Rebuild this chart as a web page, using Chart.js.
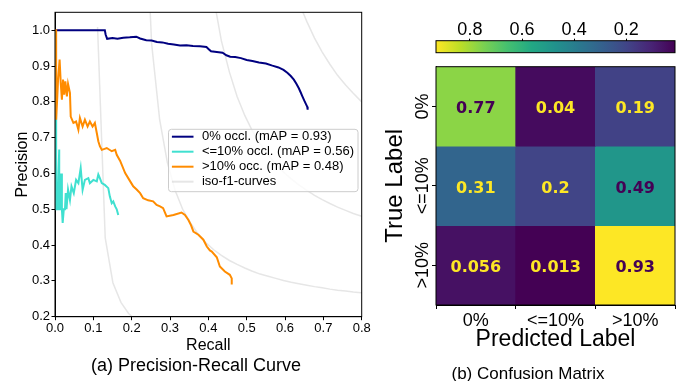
<!DOCTYPE html>
<html>
<head>
<meta charset="utf-8">
<title>Precision-Recall Curve and Confusion Matrix</title>
<script src="https://cdn.jsdelivr.net/npm/chart.js@4.4.1/dist/chart.umd.min.js"></script>
<style>
  html, body { margin: 0; padding: 0; background: #fff; }
  #page { position: relative; width: 680px; height: 381px; overflow: hidden; font-family: "Liberation Sans", Arial, sans-serif; color: #000; }
  canvas { position: absolute; }
  #prChart { left: 0; top: 0; }
  #cbarChart { left: 370px; top: 0; }
  #cmChart { left: 370px; top: 60px; }
  .caption { position: absolute; text-align: center; line-height: 1; white-space: nowrap; }
  #capA { left: 0; width: 392px; top: 355.5px; font-size: 18px; }
  #capB { left: 428px; width: 200px; top: 364.6px; font-size: 17px; }
</style>
</head>
<body>
<div id="page">
  <canvas id="prChart" width="372" height="381"></canvas>
  <canvas id="cbarChart" width="310" height="60"></canvas>
  <canvas id="cmChart" width="310" height="321"></canvas>
  <div class="caption" id="capA">(a) Precision-Recall Curve</div>
  <div class="caption" id="capB">(b) Confusion Matrix</div>
</div>
<script>
// PR curves, as [recall, precision]
const occl0 = [
  [0.000, 1.000], [0.130, 1.000], [0.132, 0.988], [0.136, 0.976], [0.150, 0.978], [0.163, 0.976],
  [0.178, 0.979], [0.195, 0.980], [0.212, 0.982], [0.222, 0.977], [0.238, 0.972], [0.252, 0.971],
  [0.266, 0.967], [0.280, 0.966], [0.295, 0.962], [0.310, 0.960], [0.326, 0.957], [0.343, 0.958],
  [0.360, 0.956], [0.378, 0.955], [0.395, 0.953], [0.401, 0.947], [0.407, 0.941], [0.422, 0.939],
  [0.437, 0.937], [0.447, 0.930], [0.457, 0.926], [0.470, 0.925], [0.485, 0.922], [0.500, 0.917],
  [0.515, 0.914], [0.532, 0.910], [0.550, 0.907], [0.567, 0.901], [0.583, 0.896], [0.596, 0.889],
  [0.606, 0.881], [0.615, 0.872], [0.623, 0.862], [0.630, 0.850], [0.636, 0.838], [0.641, 0.826],
  [0.645, 0.816], [0.650, 0.804], [0.654, 0.795], [0.658, 0.786], [0.659, 0.778]
];
const occl10 = [
  [0.000, 1.000], [0.003, 0.750], [0.003, 0.500], [0.006, 0.500], [0.011, 0.667], [0.011, 0.500],
  [0.014, 0.500], [0.016, 0.600], [0.018, 0.500], [0.020, 0.462], [0.023, 0.500], [0.026, 0.500],
  [0.028, 0.545], [0.030, 0.500], [0.034, 0.555], [0.039, 0.526], [0.043, 0.564], [0.049, 0.545],
  [0.055, 0.582], [0.061, 0.573], [0.067, 0.615], [0.072, 0.554], [0.078, 0.582], [0.087, 0.587],
  [0.091, 0.573], [0.100, 0.582], [0.109, 0.578], [0.113, 0.597], [0.117, 0.587], [0.122, 0.573],
  [0.130, 0.568], [0.139, 0.559], [0.143, 0.536], [0.148, 0.517], [0.152, 0.522], [0.157, 0.508],
  [0.161, 0.500], [0.165, 0.484]
];
const occlOver10 = [
  [0.000, 1.000], [0.003, 1.000], [0.003, 0.750], [0.006, 0.815], [0.008, 0.862], [0.012, 0.918],
  [0.015, 0.853], [0.018, 0.806], [0.021, 0.862], [0.024, 0.820], [0.027, 0.857], [0.031, 0.815],
  [0.034, 0.850], [0.039, 0.825], [0.041, 0.759], [0.048, 0.741], [0.055, 0.745], [0.061, 0.722],
  [0.065, 0.755], [0.072, 0.731], [0.078, 0.750], [0.085, 0.731], [0.091, 0.745], [0.098, 0.731],
  [0.104, 0.741], [0.109, 0.713], [0.113, 0.690], [0.117, 0.676], [0.122, 0.666], [0.135, 0.671],
  [0.148, 0.662], [0.157, 0.666], [0.161, 0.652], [0.170, 0.635], [0.183, 0.601], [0.195, 0.580],
  [0.204, 0.564], [0.213, 0.555], [0.222, 0.545], [0.230, 0.531], [0.243, 0.525], [0.256, 0.522],
  [0.265, 0.512], [0.274, 0.508], [0.282, 0.503], [0.291, 0.480], [0.309, 0.484], [0.330, 0.491],
  [0.339, 0.484], [0.348, 0.470], [0.355, 0.455], [0.361, 0.438], [0.374, 0.429], [0.387, 0.415],
  [0.396, 0.396], [0.404, 0.385], [0.409, 0.382], [0.422, 0.366], [0.430, 0.340], [0.443, 0.326],
  [0.456, 0.317], [0.461, 0.307], [0.461, 0.290]
];

// grey iso-F1 curves (F = 0.2, 0.4, 0.6, 0.8)
const iso02 = [[0.111, 1.009], [0.131, 0.420], [0.151, 0.295], [0.172, 0.240], [0.192, 0.209], [0.212, 0.189]];
const iso04 = [
  [0.232, 1.442], [0.252, 0.963], [0.273, 0.750], [0.293, 0.631], [0.313, 0.554], [0.333, 0.500],
  [0.354, 0.461], [0.374, 0.430], [0.394, 0.406], [0.414, 0.387], [0.434, 0.371], [0.455, 0.357],
  [0.475, 0.346], [0.495, 0.336], [0.515, 0.327], [0.535, 0.319], [0.556, 0.313], [0.576, 0.307],
  [0.596, 0.301], [0.616, 0.296], [0.636, 0.292], [0.657, 0.288], [0.677, 0.284], [0.697, 0.281],
  [0.717, 0.277], [0.737, 0.274], [0.758, 0.272], [0.778, 0.269], [0.798, 0.267], [0.818, 0.265]
];
const iso06 = [
  [0.414, 1.089], [0.434, 0.970], [0.455, 0.883], [0.475, 0.815], [0.495, 0.762], [0.515, 0.718],
  [0.535, 0.683], [0.556, 0.652], [0.576, 0.626], [0.596, 0.604], [0.616, 0.585], [0.636, 0.568],
  [0.657, 0.553], [0.677, 0.539], [0.697, 0.527], [0.717, 0.516], [0.737, 0.506], [0.758, 0.497],
  [0.778, 0.488], [0.798, 0.481], [0.818, 0.474]
];
const iso08 = [
  [0.636, 1.077], [0.657, 1.024], [0.677, 0.978], [0.697, 0.939], [0.717, 0.905], [0.737, 0.874],
  [0.758, 0.847], [0.778, 0.824], [0.798, 0.802], [0.818, 0.783]
];

const recallTicks = [0, 0.1, 0.2, 0.3, 0.4, 0.5, 0.6, 0.7, 0.8];
const precisionTicks = [0.2, 0.3, 0.4, 0.5, 0.6, 0.7, 0.8, 0.9, 1.0];

// confusion matrix: rows = true label, columns = predicted label
const classLabels = ['0%', '<=10%', '>10%'];
const cmRows = [
  [0.77, 0.04, 0.19],
  [0.31, 0.2, 0.49],
  [0.056, 0.013, 0.93]
];
const cbarTicks = [0.2, 0.4, 0.6, 0.8];

Chart.defaults.font.family = '"Liberation Sans", Arial, sans-serif';
Chart.defaults.color = '#000';

// viridis colour map
const viridisStops = ['#440154', '#482475', '#414487', '#355f8d', '#2a788e', '#21918c',
                      '#22a884', '#44bf70', '#7ad151', '#bddf26', '#fde725'];
function hexRgb(h) {
  return [1, 3, 5].map(i => parseInt(h.slice(i, i + 2), 16));
}
function viridis(t) {
  t = Math.min(1, Math.max(0, t));
  const p = t * (viridisStops.length - 1);
  const i = Math.min(Math.floor(p), viridisStops.length - 2);
  const f = p - i;
  const a = hexRgb(viridisStops[i]), b = hexRgb(viridisStops[i + 1]);
  const c = a.map((v, k) => Math.round(v + (b[k] - v) * f));
  return `rgb(${c[0]},${c[1]},${c[2]})`;
}

const allValues = cmRows.flat();
const vmin = Math.min(...allValues);
const vmax = Math.max(...allValues);

// black box round the plot area
const framePlugin = {
  id: 'frame',
  afterDatasetsDraw(chart) {
    const { ctx, chartArea: a } = chart;
    ctx.save();
    ctx.strokeStyle = '#000';
    ctx.lineWidth = 1;
    ctx.strokeRect(a.left, a.top, a.right - a.left, a.bottom - a.top);
    ctx.restore();
  }
};

// matplotlib style legend drawn inside the axes
const insideLegend = {
  id: 'insideLegend',
  afterDraw(chart) {
    const { ctx, chartArea } = chart;
    const items = chart.data.datasets.filter(d => d.label);
    ctx.save();
    ctx.font = '13px "Liberation Sans", Arial, sans-serif';
    const textW = Math.max(...items.map(d => ctx.measureText(d.label).width));
    const w = 33.4 + textW + 4;
    const h = 62.4;
    const x0 = chartArea.right - 3.7 - w;
    const y0 = chartArea.top + 117;
    ctx.beginPath();
    ctx.roundRect(x0, y0, w, h, 3);
    ctx.fillStyle = 'rgba(255,255,255,0.8)';
    ctx.fill();
    ctx.strokeStyle = '#cccccc';
    ctx.lineWidth = 1;
    ctx.stroke();
    items.forEach((d, i) => {
      const y = y0 + 7.4 + i * 15;
      ctx.beginPath();
      ctx.moveTo(x0 + 3.4, y);
      ctx.lineTo(x0 + 25, y);
      ctx.strokeStyle = d.borderColor;
      ctx.lineWidth = 2;
      ctx.stroke();
      ctx.fillStyle = '#000';
      ctx.textAlign = 'left';
      ctx.textBaseline = 'middle';
      ctx.fillText(d.label, x0 + 33.4, y);
    });
    ctx.restore();
  }
};

const toXY = pts => pts.map(p => ({ x: p[0], y: p[1] }));
function curve(label, pts, color, width, order) {
  return { label: label, data: toXY(pts), borderColor: color, borderWidth: width, order: order,
           showLine: true, pointRadius: 0, pointHoverRadius: 0, tension: 0, fill: false };
}
const isoGrey = 'rgba(128,128,128,0.2)';

new Chart(document.getElementById('prChart'), {
  type: 'scatter',
  data: {
    datasets: [
      curve('0% occl. (mAP = 0.93)', occl0, 'navy', 2, 3),
      curve('<=10% occl. (mAP = 0.56)', occl10, 'turquoise', 2, 2),
      curve('>10% occ. (mAP = 0.48)', occlOver10, 'darkorange', 2, 1),
      curve('iso-f1-curves', iso02, isoGrey, 1.5, 4),
      curve('', iso04, isoGrey, 1.5, 4),
      curve('', iso06, isoGrey, 1.5, 4),
      curve('', iso08, isoGrey, 1.5, 4)
    ]
  },
  options: {
    responsive: false,
    animation: false,
    layout: { padding: { top: 12.3, right: 10.3, left: 0, bottom: 0 } },
    plugins: { legend: { display: false }, tooltip: { enabled: false } },
    scales: {
      x: {
        type: 'linear', min: 0, max: 0.8,
        afterBuildTicks: s => { s.ticks = recallTicks.map(v => ({ value: v })); },
        afterFit: s => { s.height = 64.3; },
        ticks: { font: { size: 13 }, color: '#000', padding: 0, maxRotation: 0, autoSkip: false,
                 callback: v => v.toFixed(1) },
        grid: { drawOnChartArea: false, tickLength: 3.5, color: '#000' },
        border: { color: '#000', width: 1 },
        title: { display: true, text: 'Recall', font: { size: 16 }, color: '#000',
                 padding: { top: 0, bottom: 25.7 } }
      },
      y: {
        type: 'linear', min: 0.2, max: 1.05,
        afterBuildTicks: s => { s.ticks = precisionTicks.map(v => ({ value: v })); },
        afterFit: s => { s.width = 55; },
        ticks: { font: { size: 13 }, color: '#000', padding: 1.5, autoSkip: false,
                 callback: v => v.toFixed(1) },
        grid: { drawOnChartArea: false, tickLength: 3.5, color: '#000' },
        border: { color: '#000', width: 1 },
        title: { display: true, text: 'Precision', font: { size: 16 }, color: '#000',
                 padding: { top: 12.7, bottom: 0 } }
      }
    }
  },
  plugins: [framePlugin, insideLegend]
});

// colour bar, high values on the left
function cbarGradient(chart) {
  const { ctx, chartArea, scales } = chart;
  if (!chartArea) return null;
  const xs = scales.x;
  const g = ctx.createLinearGradient(xs.getPixelForValue(vmin), 0, xs.getPixelForValue(vmax), 0);
  for (let i = 0; i <= 20; i++) g.addColorStop(i / 20, viridis(i / 20));
  return g;
}

new Chart(document.getElementById('cbarChart'), {
  type: 'bar',
  data: {
    labels: [''],
    datasets: [{ data: [[vmin, vmax]], backgroundColor: c => cbarGradient(c.chart),
                 borderWidth: 0, barPercentage: 1, categoryPercentage: 1 }]
  },
  options: {
    indexAxis: 'y',
    responsive: false,
    animation: false,
    layout: { padding: { left: 66, right: 5, top: 0, bottom: 7.3 } },
    plugins: { legend: { display: false }, tooltip: { enabled: false } },
    scales: {
      x: {
        type: 'linear', position: 'top', reverse: true, min: vmin, max: vmax,
        afterBuildTicks: s => { s.ticks = cbarTicks.map(v => ({ value: v })); },
        afterFit: s => { s.height = 40.7; },
        ticks: { font: { size: 18, lineHeight: 1 }, color: '#000', padding: 0, maxRotation: 0 },
        grid: { drawOnChartArea: false, tickLength: 2, color: '#000' },
        border: { display: false }
      },
      y: { display: false }
    }
  },
  plugins: [framePlugin]
});

// numbers inside the cells
const cellText = {
  id: 'cellText',
  afterDatasetsDraw(chart) {
    const { ctx } = chart;
    const thresh = (vmin + vmax) / 2;
    ctx.save();
    ctx.font = 'bold 16px "DejaVu Sans"';
    ctx.textAlign = 'center';
    ctx.textBaseline = 'middle';
    cmRows.forEach((row, r) => {
      chart.getDatasetMeta(r).data.forEach((bar, c) => {
        const p = bar.getCenterPoint();
        ctx.fillStyle = row[c] < thresh ? viridis(1) : viridis(0);
        ctx.fillText(String(row[c]), p.x, p.y + 2.5);
      });
    });
    ctx.restore();
  }
};

// rotated row labels on the left
const rowLabels = {
  id: 'rowLabels',
  afterDraw(chart) {
    const { ctx, chartArea, scales } = chart;
    ctx.save();
    ctx.font = '18px "Liberation Sans", Arial, sans-serif';
    ctx.fillStyle = '#000';
    ctx.textAlign = 'center';
    ctx.textBaseline = 'alphabetic';
    classLabels.forEach((lab, r) => {
      ctx.save();
      ctx.translate(chartArea.left - 7.7, scales.y.getPixelForValue(r + 0.5));
      ctx.rotate(-Math.PI / 2);
      ctx.fillText(lab, 0, 0);
      ctx.restore();
    });
    ctx.restore();
  }
};

new Chart(document.getElementById('cmChart'), {
  type: 'bar',
  data: {
    labels: classLabels,
    datasets: cmRows.map((row, r) => ({
      data: row.map(() => [r, r + 1]),
      backgroundColor: row.map(v => viridis((v - vmin) / (vmax - vmin))),
      borderWidth: 0,
      grouped: false,
      barPercentage: 1,
      categoryPercentage: 1
    }))
  },
  options: {
    responsive: false,
    animation: false,
    layout: { padding: { left: 0, right: 5, top: 6.7, bottom: 0 } },
    plugins: { legend: { display: false }, tooltip: { enabled: false } },
    scales: {
      x: {
        type: 'category', offset: true,
        afterFit: s => { s.height = 76; },
        ticks: { font: { size: 18 }, color: '#000', padding: 1.2, maxRotation: 0 },
        grid: { drawOnChartArea: false, tickLength: 4, color: '#000' },
        border: { color: '#000' },
        title: { display: true, text: 'Predicted Label', font: { size: 23 }, color: '#000',
                 padding: { top: 0, bottom: 27.6 } }
      },
      y: {
        type: 'linear', min: 0, max: 3, reverse: true,
        afterBuildTicks: s => { s.ticks = classLabels.map((_, i) => ({ value: i + 0.5 })); },
        afterFit: s => { s.width = 66; },
        ticks: { display: false },
        grid: { drawOnChartArea: false, tickLength: 4, color: '#000' },
        border: { color: '#000' },
        title: { display: true, text: 'True Label', font: { size: 24 }, color: '#000',
                 padding: { top: 11.2, bottom: 0 } }
      }
    }
  },
  plugins: [framePlugin, cellText, rowLabels]
});
</script>
</body>
</html>
